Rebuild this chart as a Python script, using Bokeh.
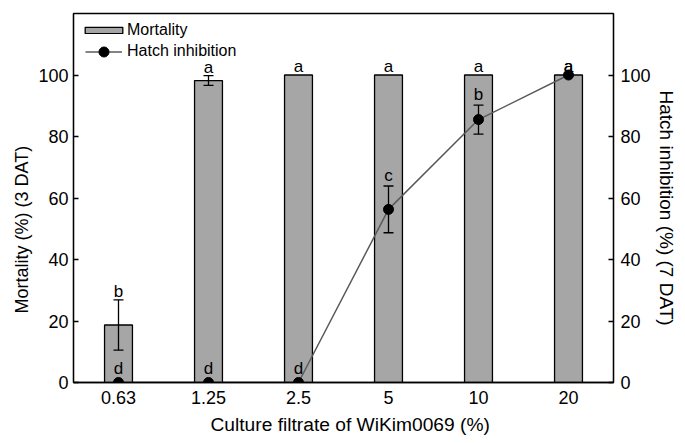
from bokeh.plotting import figure
from bokeh.models import (FactorRange, Range1d, LinearAxis, FixedTicker, Whisker,
                          TeeHead, ColumnDataSource, Legend, LegendItem, Title)
from bokeh.embed import file_html
from bokeh.resources import INLINE
from bokeh.core.properties import value

categories = ["0.63", "1.25", "2.5", "5", "10", "20"]
mortality = [18.7, 98.2, 100, 100, 100, 100]
mortality_err = [8.2, 1.6, 0, 0, 0, 0]
mortality_letters = ["b", "a", "a", "a", "a", "a"]
hatch = [0, 0, 0, 56.3, 85.5, 100]
hatch_err = [0, 0, 0, 7.6, 4.7, 0]
hatch_letters = ["d", "d", "d", "c", "b", "a"]
y_ticks = [0, 20, 40, 60, 80, 100]

FONT = "Liberation Sans"
W, H = 685, 443
BL, BT, BR, BB = 73, 13, 72, 61
FRAME_H = H - BT - BB

p = figure(x_range=FactorRange(factors=categories, range_padding=0),
           y_range=Range1d(0, 120), width=W, height=H,
           output_backend="svg", toolbar_location=None,
           min_border_left=BL, min_border_right=BR, min_border_top=BT,
           min_border_bottom=BB)
p.xgrid.visible = False
p.ygrid.visible = False
p.outline_line_color = "black"
p.outline_line_width = 1.3
p.extra_y_ranges = {"hatch": Range1d(0, 120)}

# bars
bar_src = ColumnDataSource(dict(x=categories, top=mortality))
bars = p.vbar(x="x", top="top", width=0.31, source=bar_src,
              fill_color="#a6a6a6", line_color="black", line_width=1.3)

def whisk(cats, vals, errs, **kw):
    sel = [(c, v, e) for c, v, e in zip(cats, vals, errs) if e > 0]
    src = ColumnDataSource(dict(x=[m[0] for m in sel],
                                upper=[m[1] + m[2] for m in sel],
                                lower=[m[1] - m[2] for m in sel]))
    return Whisker(base="x", upper="upper", lower="lower", source=src,
                   level="glyph", line_color="black", line_width=1.3,
                   upper_head=TeeHead(size=10, line_color="black", line_width=1.3),
                   lower_head=TeeHead(size=10, line_color="black", line_width=1.3),
                   **kw)

p.add_layout(whisk(categories, mortality, mortality_err))

# hatch line
h_src = ColumnDataSource(dict(x=categories, y=hatch))
hline = p.line(x="x", y="y", source=h_src, y_range_name="hatch",
               line_color="#5a5a5a", line_width=1.5)
p.add_layout(whisk(categories, hatch, hatch_err, y_range_name="hatch"))
hpts = p.scatter(x="x", y="y", source=h_src, y_range_name="hatch", size=10,
                 fill_color="black", line_color="black")

# letters (grouped by pixel offset above the top of value + error)
def letters(cats, vals, errs, labs, offsets):
    groups = {}
    for c, v, e, t, o in zip(cats, vals, errs, labs, offsets):
        groups.setdefault(o, []).append((c, v + e, t))
    for o, items in groups.items():
        src = ColumnDataSource(dict(x=[i[0] for i in items], y=[i[1] for i in items],
                                    t=[i[2] for i in items]))
        p.text(x="x", y="y", text="t", source=src, y_offset=o,
               text_align="center", text_baseline="bottom",
               text_font=value(FONT), text_font_size="17px", text_color="black")

m_top = [v + e for v, e in zip(mortality, mortality_err)]
letters(categories, mortality, mortality_err, mortality_letters,
        [1] * len(categories))
h_top = [v + e for v, e in zip(hatch, hatch_err)]
h_off = []
for ht, mt, e in zip(h_top, m_top, hatch_err):
    if abs(ht - mt) < 0.5:
        h_off.append(1)
    elif e > 0:
        h_off.append(-1)
    else:
        h_off.append(-5)
letters(categories, hatch, hatch_err, hatch_letters, h_off)

# axes
def style_y(ax):
    ax.ticker = FixedTicker(ticks=y_ticks)
    ax.major_tick_in = 5
    ax.major_tick_out = 0
    ax.minor_tick_line_color = None
    ax.major_tick_line_color = "black"
    ax.major_tick_line_width = 1.3
    ax.axis_line_color = "black"
    ax.axis_line_width = 1.3
    ax.major_label_text_font = FONT
    ax.major_label_text_font_size = "18px"
    ax.major_label_text_color = "black"
    ax.major_label_standoff = 5

style_y(p.yaxis[0])
rax = LinearAxis(y_range_name="hatch")
style_y(rax)
rax.major_label_standoff = 7
p.add_layout(rax, "right")

xa = p.xaxis[0]
xa.major_tick_line_color = None
xa.axis_line_color = "black"
xa.axis_line_width = 1.3
xa.major_label_text_font = FONT
xa.major_label_text_font_size = "18px"
xa.major_label_text_color = "black"
xa.major_label_standoff = 2

bt = Title(text="Culture filtrate of WiKim0069 (%)", align="left", offset=137,
           text_font=FONT, text_font_size="19.2px", text_font_style="normal",
           text_color="black", standoff=10)
p.add_layout(bt, "below")
lt = Title(text="Mortality (%) (3 DAT)", align="left", offset=69,
           text_font=FONT, text_font_size="18px", text_font_style="normal",
           text_color="black", standoff=8)
p.add_layout(lt, "left")
rt = Title(text="Hatch inhibition (%) (7 DAT)", align="left", offset=77,
           text_font=FONT, text_font_size="19px", text_font_style="normal",
           text_color="black", standoff=4)
p.add_layout(rt, "right")

common = dict(margin=0, padding=0, spacing=0, label_text_font=FONT,
              label_text_font_size="16px", label_text_color="black",
              background_fill_alpha=0, border_line_alpha=0)
leg1 = Legend(items=[LegendItem(label="Mortality", renderers=[bars])],
              location=(7, FRAME_H - 18 - 8), glyph_width=47, glyph_height=8,
              label_height=8, label_standoff=0, **common)
leg2 = Legend(items=[LegendItem(label="Hatch inhibition", renderers=[hline, hpts])],
              location=(12, FRAME_H - 25.5 - 25), glyph_width=37, glyph_height=25,
              label_height=25, label_standoff=5, **common)
p.add_layout(leg1)
p.add_layout(leg2)

open("out.html", "w").write(file_html(p, INLINE))
